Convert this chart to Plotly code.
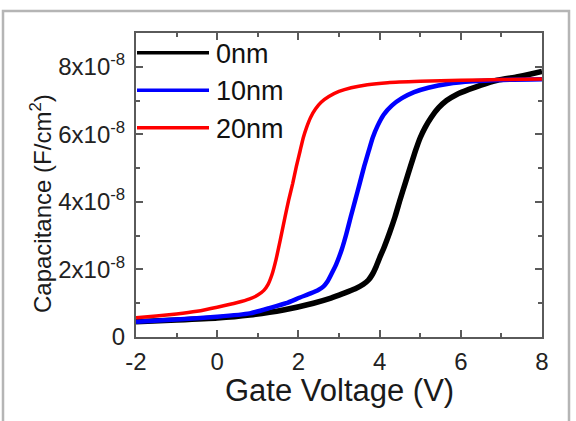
import plotly.graph_objects as go

# ---- data (Capacitance in units of 1e-8 F/cm^2) ----
v_0nm = [-2, -1, 0, 0.8, 1.63, 2.37, 2.8, 3.11, 3.4, 3.6, 3.72, 3.82, 3.92, 4.02, 4.1, 4.25, 4.38, 4.5, 4.63, 4.76, 4.88, 5.0, 5.12, 5.27, 5.45, 5.65, 5.9, 6.2, 6.5, 6.9, 7.37, 7.7, 8.0]
c_0nm = [0.45, 0.50, 0.56, 0.65, 0.80, 1.00, 1.15, 1.29, 1.43, 1.56, 1.68, 1.85, 2.1, 2.4, 2.62, 3.1, 3.56, 4.05, 4.55, 5.05, 5.5, 5.9, 6.2, 6.5, 6.78, 7.0, 7.18, 7.33, 7.46, 7.6, 7.7, 7.78, 7.86]

v_10nm = [-2, -1, 0, 0.8, 1.3, 1.7, 2.04, 2.3, 2.5, 2.62, 2.72, 2.82, 2.93, 3.07, 3.18, 3.29, 3.4, 3.51, 3.62, 3.73, 3.83, 3.95, 4.1, 4.3, 4.55, 4.85, 5.2, 5.7, 6.3, 7.0, 8.0]
c_10nm = [0.45, 0.52, 0.60, 0.70, 0.86, 1.00, 1.17, 1.29, 1.40, 1.50, 1.65, 1.88, 2.15, 2.6, 3.05, 3.56, 4.05, 4.55, 5.05, 5.5, 5.9, 6.25, 6.58, 6.85, 7.07, 7.25, 7.38, 7.5, 7.57, 7.61, 7.63]

v_20nm = [-2, -1.5, -1, -0.5, 0, 0.5, 0.8, 1.0, 1.15, 1.25, 1.35, 1.45, 1.55, 1.67, 1.76, 1.86, 1.95, 2.04, 2.12, 2.2, 2.3, 2.42, 2.56, 2.75, 3.0, 3.3, 3.7, 4.2, 5.0, 6.0, 7.0, 8.0]
c_20nm = [0.57, 0.62, 0.68, 0.76, 0.88, 1.02, 1.13, 1.24, 1.38, 1.55, 1.85, 2.3, 2.85, 3.55, 4.05, 4.55, 5.05, 5.5, 5.9, 6.2, 6.5, 6.75, 6.95, 7.12, 7.27, 7.38, 7.47, 7.53, 7.57, 7.6, 7.62, 7.64]

series_names = ["0nm", "10nm", "20nm"]
series_colors = ["#000000", "#0000ff", "#ff0000"]
series_widths = [5.5, 4.5, 3.5]

x_tickvals = [-2, 0, 2, 4, 6, 8]
x_ticktext = ["-2", "0", "2", "4", "6", "8"]
y_tickvals = [0, 2e-8, 4e-8, 6e-8, 8e-8]
y_ticktext = ["0", "2x10<sup>-8</sup>", "4x10<sup>-8</sup>", "6x10<sup>-8</sup>", "8x10<sup>-8</sup>"]

x_title = "Gate Voltage (V)"
y_title = "Capacitance (F/cm<sup>2</sup>)"

FONT = "Liberation Sans, Arial, Helvetica, sans-serif"

fig = go.Figure()
for vs, cs, name, col, w in zip([v_0nm, v_10nm, v_20nm], [c_0nm, c_10nm, c_20nm],
                                series_names, series_colors, series_widths):
    fig.add_trace(go.Scatter(
        x=vs, y=[c * 1e-8 for c in cs], mode="lines", name=name,
        line=dict(color=col, width=w, shape="spline", smoothing=0.5),
        showlegend=False,
    ))

# plot area geometry (px): left 136, right 542, top 33, bottom 337
W, H = 576, 421
L, R, T, B = 136, 34, 33, 84
PW, PH = W - L - R, H - T - B

def px(xp):
    return (xp - L) / PW

def py(yp):
    return (H - B - yp) / PH

# custom legend: sample lines + labels
legend_y = [52.7, 90.3, 127.7]
for name, col, ly in zip(series_names, series_colors, legend_y):
    fig.add_shape(type="line", xref="paper", yref="paper",
                  x0=px(137), x1=px(209), y0=py(ly), y1=py(ly),
                  line=dict(color=col, width=3.5))
    fig.add_annotation(xref="paper", yref="paper", x=px(214), y=py(ly + 1),
                       text=name, showarrow=False, xanchor="left", yanchor="middle",
                       font=dict(family=FONT, size=27, color="#111111"))

# axis titles
fig.add_annotation(xref="paper", yref="paper", x=px(339), y=py(390),
                   text=x_title, showarrow=False, xanchor="center", yanchor="middle",
                   font=dict(family=FONT, size=31, color="#1a1a1a"))
fig.add_annotation(xref="paper", yref="paper", x=px(41), y=py(204),
                   text=y_title, showarrow=False, textangle=-90,
                   xanchor="center", yanchor="middle",
                   font=dict(family=FONT, size=24, color="#1a1a1a"))

# outer gray frame
fig.add_shape(type="rect", xref="paper", yref="paper",
              x0=px(3), x1=px(569), y0=py(11), y1=py(430),
              line=dict(color="#b5b5b5", width=2.5), layer="below")

axis_common = dict(
    showgrid=False, zeroline=False, showline=True, linecolor="#5a5a5a", linewidth=2,
    mirror="ticks", ticks="inside", ticklen=7, tickwidth=1.5, tickcolor="#5a5a5a",
    tickfont=dict(family=FONT, size=24, color="#222222"),
)

fig.update_layout(
    width=W, height=H,
    margin=dict(l=L, r=R, t=T, b=B),
    paper_bgcolor="white", plot_bgcolor="white",
    xaxis=dict(range=[-2, 8], tickvals=x_tickvals, ticktext=x_ticktext,
               minor=dict(dtick=1, ticks="inside", ticklen=4, tickcolor="#5a5a5a", tickwidth=1.5),
               ticklabelstandoff=2, **axis_common),
    yaxis=dict(range=[0, 9e-8], tickvals=y_tickvals, ticktext=y_ticktext,
               minor=dict(dtick=1e-8, ticks="inside", ticklen=4, tickcolor="#5a5a5a", tickwidth=1.5),
               ticklabelstandoff=4, **axis_common),
)

fig.write_html("out.html")
